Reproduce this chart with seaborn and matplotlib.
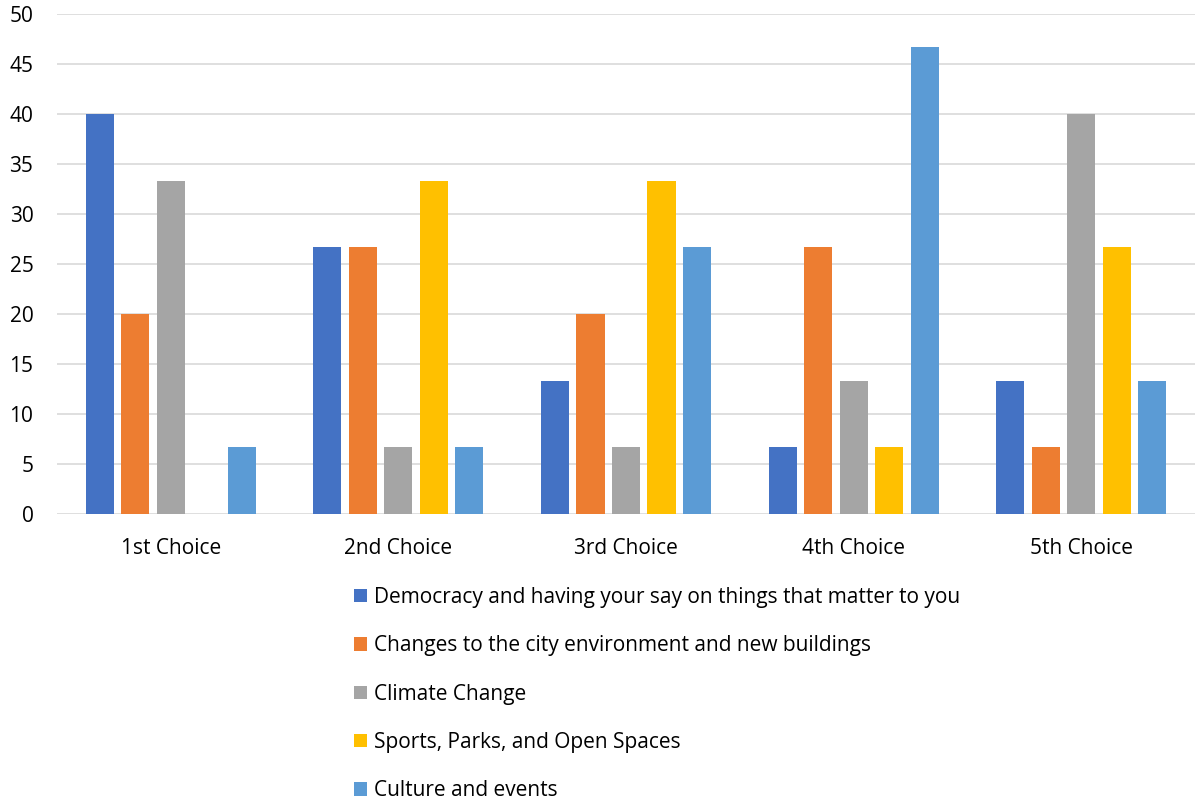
import matplotlib
matplotlib.use("Agg")
import matplotlib.pyplot as plt
import seaborn as sns
import pandas as pd
from matplotlib.patches import Patch

choices = ["1st Choice", "2nd Choice", "3rd Choice", "4th Choice", "5th Choice"]
topics = [
    "Democracy and having your say on things that matter to you",
    "Changes to the city environment and new buildings",
    "Climate Change",
    "Sports, Parks, and Open Spaces",
    "Culture and events",
]
democracy = [40.0, 26.67, 13.33, 6.67, 13.33]
city_env = [20.0, 26.67, 20.0, 26.67, 6.67]
climate = [33.33, 6.67, 6.67, 13.33, 40.0]
sports = [0.0, 33.33, 33.33, 6.67, 26.67]
culture = [6.67, 6.67, 26.67, 46.67, 13.33]
colors = ["#4472C4", "#ED7D31", "#A5A5A5", "#FFC000", "#5B9BD5"]

series = [democracy, city_env, climate, sports, culture]
rows = []
for topic, vals in zip(topics, series):
    for ch, v in zip(choices, vals):
        rows.append({"choice": ch, "topic": topic, "value": v})
df = pd.DataFrame(rows)

sns.set_theme(style="white")
plt.rcParams["font.family"] = ["Open Sans", "DejaVu Sans"]
plt.rcParams["text.color"] = "#000000"

fig = plt.figure(figsize=(12.01, 8.02), dpi=100)
ax = fig.add_axes([57 / 1201, 1 - 514 / 802, (1195 - 57) / 1201, 500 / 802])

sns.barplot(data=df, x="choice", y="value", hue="topic", order=choices,
            hue_order=topics, palette=colors, width=0.78, gap=0.21,
            saturation=1, errorbar=None, legend=False, linewidth=0,
            ax=ax, zorder=3)

ax.set_ylim(0, 50)
ax.set_xlim(-0.5, 4.5)
ax.set_yticks(range(0, 51, 5))
ax.yaxis.grid(True, color="#d9d9d9", linewidth=1.2, zorder=0)
ax.set_axisbelow(True)
for s in ax.spines.values():
    s.set_visible(False)
ax.set_xlabel("")
ax.set_ylabel("")
ax.tick_params(axis="y", length=0, pad=17, labelsize=15, labelcolor="#000000")
ax.tick_params(axis="x", length=0, pad=17, labelsize=15, labelcolor="#000000")

handles = [Patch(facecolor=c, edgecolor="none") for c in colors]
fig.legend(handles, topics, loc="upper left", bbox_to_anchor=(354 / 1201, 1 - 587 / 802),
           frameon=False, fontsize=15, handlelength=0.62, handleheight=0.62,
           handletextpad=0.34, labelspacing=1.31, borderaxespad=0, borderpad=0,
           labelcolor="#000000")

fig.savefig("out.png", dpi=100)
